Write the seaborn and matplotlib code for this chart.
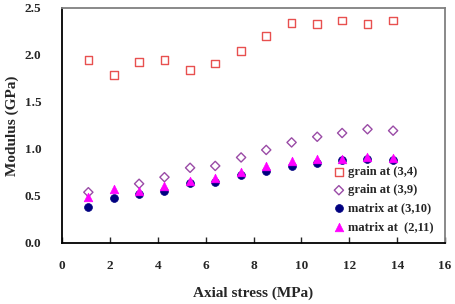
import matplotlib
matplotlib.use("Agg")
import matplotlib.pyplot as plt
import seaborn as sns

stress = [1.1, 2.17, 3.22, 4.28, 5.35, 6.4, 7.48, 8.53, 9.59, 10.66, 11.7, 12.76, 13.83]
grain_34 = [1.947, 1.79, 1.926, 1.947, 1.84, 1.91, 2.04, 2.205, 2.34, 2.33, 2.365, 2.33, 2.365]
grain_39_x = [1.1, 3.22, 4.28, 5.35, 6.4, 7.48, 8.53, 9.59, 10.66, 11.7, 12.76, 13.83]
grain_39 = [0.54, 0.63, 0.70, 0.80, 0.82, 0.91, 0.99, 1.07, 1.13, 1.17, 1.21, 1.195]
matrix_310 = [0.386, 0.475, 0.518, 0.553, 0.635, 0.646, 0.723, 0.77, 0.82, 0.848, 0.88, 0.897, 0.88]
matrix_211 = [0.49, 0.57, 0.556, 0.61, 0.656, 0.695, 0.76, 0.82, 0.87, 0.89, 0.89, 0.92, 0.90]

labels = ["grain at (3,4)", "grain at (3,9)", "matrix at (3,10)", "matrix at  (2,11)"]
xticks = [0, 2, 4, 6, 8, 10, 12, 14, 16]
yticks = [0, 0.5, 1.0, 1.5, 2.0, 2.5]
ytick_labels = ["0.0", "0.5", "1.0", "1.5", "2.0", "2.5"]

sns.set_style("white")
plt.rcParams['font.family'] = ['Liberation Serif', 'DejaVu Serif']

fig = plt.figure(figsize=(4.56, 3.04), dpi=100)
ax = fig.add_axes([0.136, 0.2007, 0.840, 0.773])

sns.scatterplot(x=stress, y=grain_34, ax=ax, marker='s', s=30,
                facecolors='none', edgecolor='#E8504F', linewidth=1.0, label=labels[0])
sns.scatterplot(x=grain_39_x, y=grain_39, ax=ax, marker='D', s=22,
                facecolors='none', edgecolor='#9A4BA6', linewidth=1.0, label=labels[1])
sns.scatterplot(x=stress, y=matrix_310, ax=ax, marker='o', s=32,
                color='#000080', edgecolor='#000080', linewidth=0.5, label=labels[2])
sns.scatterplot(x=stress, y=matrix_211, ax=ax, marker='^', s=38,
                color='#FF00FF', edgecolor='#FF00FF', linewidth=0.5, label=labels[3])

ax.set_xlim(0, 16)
ax.set_ylim(0, 2.5)
ax.set_xticks(xticks)
ax.set_yticks(yticks)
ax.set_yticklabels(ytick_labels)
for lab in ax.get_xticklabels() + ax.get_yticklabels():
    lab.set_fontweight('bold')
    lab.set_fontsize(9.5)
ax.tick_params(axis='x', direction='in', length=4, width=1, pad=12, bottom=True)
ax.tick_params(axis='y', length=0, pad=15)

ax.set_xlabel("Axial stress (MPa)", fontsize=11, fontweight='bold')
ax.set_ylabel("Modulus (GPa)", fontsize=11, fontweight='bold')
ax.xaxis.set_label_coords(0.5, -0.213)
ax.yaxis.set_label_coords(-0.13, 0.5)
ax.xaxis.label.set_va('center')
ax.yaxis.label.set_va('center')

for side in ['left', 'bottom']:
    ax.spines[side].set_color('black')
    ax.spines[side].set_linewidth(1.3)
for side in ['top', 'right']:
    ax.spines[side].set_color('#808080')
    ax.spines[side].set_linewidth(1.3)

ax.legend(loc='lower right', bbox_to_anchor=(0.995, 0.0), frameon=False,
          prop={'size': 9, 'weight': 'bold', 'family': 'Liberation Serif'},
          handletextpad=0.1, labelspacing=0.5, borderaxespad=0.4, handlelength=1.2)

fig.savefig("out.png", dpi=100)
